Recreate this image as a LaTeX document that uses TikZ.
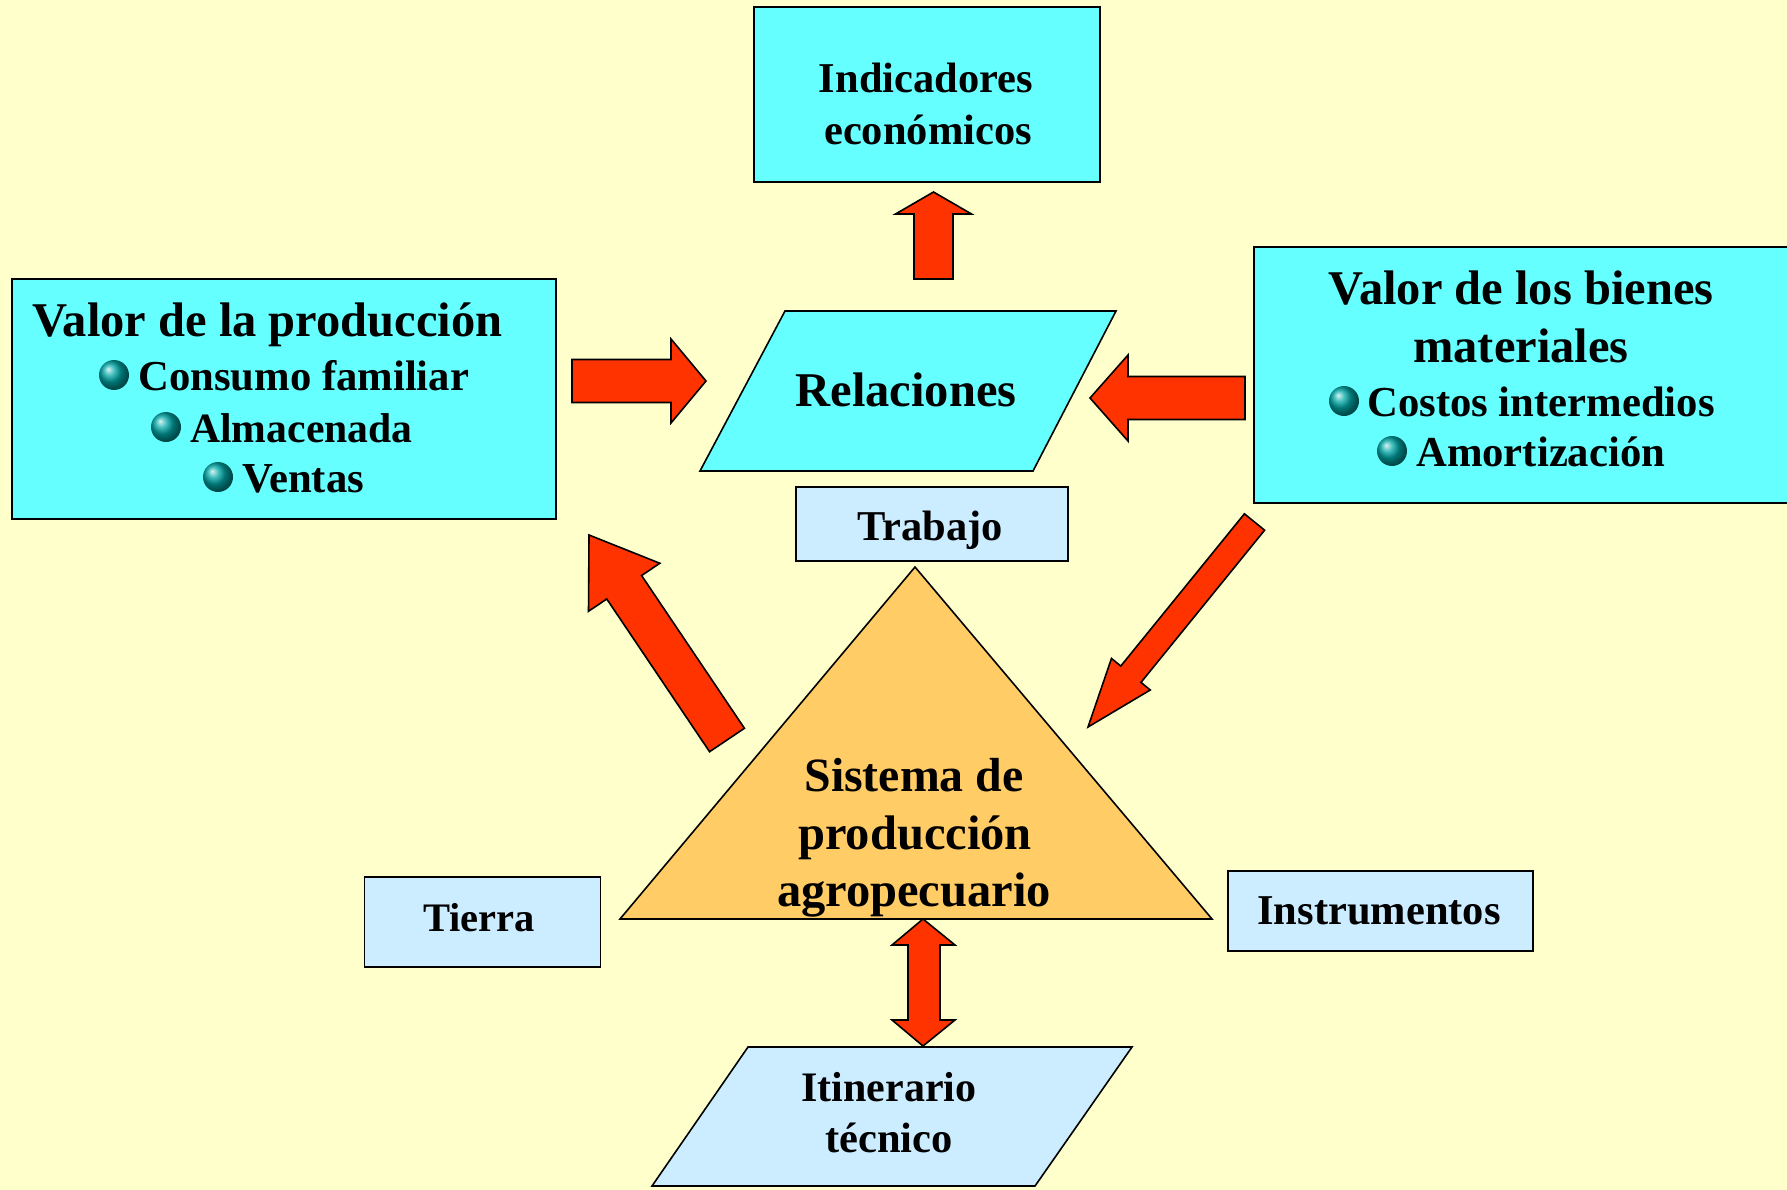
\documentclass[tikz,border=0pt]{standalone}
\usepackage{fontspec}
\setmainfont{Liberation Serif}
\usetikzlibrary{calc,shapes.geometric}
\definecolor{fondo}{HTML}{FFFFCC}
\definecolor{celeste}{HTML}{66FFFF}
\definecolor{clarito}{HTML}{CCECFF}
\definecolor{naranja}{HTML}{FFCC66}
\definecolor{rojo}{HTML}{FF3300}
\tikzset{
 caja/.style={draw=black,fill=celeste,line width=1.6pt,rectangle,inner sep=0pt,align=center,font=\fontsize{42.5}{52}\bfseries},
 clara/.style={caja,fill=clarito},
 lado/.style={draw=black,line width=1.6pt,line join=miter},
 flecha/.style={draw=black,fill=rojo,line width=1.6pt,line join=miter},
 texto/.style={anchor=base,inner sep=0pt,font=\fontsize{42.5}{48}\bfseries},
 titulo/.style={texto,font=\fontsize{48.5}{56}\bfseries},
 item/.style={texto,anchor=base west,font=\fontsize{42.7}{48}\bfseries},
 orbe/.style={circle,minimum width=30pt,inner sep=0pt,shade,ball color=teal!70!cyan}
}
% #1 tail, #2 tip, #3 half shaft, #4 half head, #5 head length
\newcommand{\flecha}[5]{
 \draw[flecha] ($(#1)!#3!90:(#2)$) -- ($($(#2)!#5!(#1)$)!#3!90:(#2)$)
  -- ($($(#2)!#5!(#1)$)!#4!90:(#2)$) -- (#2)
  -- ($($(#2)!#5!(#1)$)!#4!-90:(#2)$) -- ($($(#2)!#5!(#1)$)!#3!-90:(#2)$)
  -- ($(#1)!#3!-90:(#2)$) -- cycle;
}
\begin{document}
\begin{tikzpicture}[x=1pt,y=-1pt]
 \useasboundingbox[fill=fondo] (0,0) rectangle (1787,1190);
 % boxes
 \node[caja,minimum width=346pt,minimum height=175pt] (indicadores) at (927,94.5) {};
 \node[caja,minimum width=544pt,minimum height=240pt] (produccion) at (284,399) {};
 \node[caja,minimum width=536pt,minimum height=256pt] (bienes) at (1522,375) {};
 \node[clara,minimum width=272pt,minimum height=74pt] (trabajo) at (932,524) {};
 \node[clara,minimum width=236pt,minimum height=90pt] (tierra) at (482.5,922) {};
 \node[clara,minimum width=305pt,minimum height=80pt] (instrumentos) at (1380.5,911) {};
 % slanted shapes and triangle
 \draw[lado,fill=celeste] (700,471)--(785,311)--(1116,311)--(1033,471)--cycle;
 \draw[lado,fill=clarito] (652,1186)--(748,1047)--(1132,1047)--(1035,1186)--cycle;
 \draw[lado,fill=naranja] (915,567)--(1212,919)--(620,919)--cycle;
 % labels
 \node[texto] (indicadoresa) at (926,93) {Indicadores};
 \node[texto] (indicadoresb) at (928,145) {económicos};
 \node[titulo] (relaciones) at (906,406) {Relaciones};
 \node[texto] (trabajot) at (930,540) {Trabajo};
 \node[texto,font=\fontsize{40.5}{48}\bfseries] (tierrat) at (479,931) {Tierra};
 \node[texto] (instrumentost) at (1379,924) {Instrumentos};
 \node[titulo,font=\fontsize{47.8}{56}\bfseries] (sistema) at (914,791) {Sistema de};
 \node[titulo] (sistemab) at (915,849) {producción};
 \node[titulo] (sistemac) at (914,906) {agropecuario};
 \node[texto,font=\fontsize{42}{48}\bfseries] (itinerario) at (889,1101) {Itinerario};
 \node[texto] (tecnico) at (889,1152) {técnico};
 % left list
 \node[titulo,anchor=base west] (valorprod) at (32,336) {Valor de la producción};
 \node[orbe] (orbea) at (114,375) {};
 \node[item] (consumo) at (138,390) {Consumo familiar};
 \node[orbe] (orbeb) at (166,427) {};
 \node[item,font=\fontsize{41.7}{48}\bfseries] (almacenada) at (190,442) {Almacenada};
 \node[orbe] (orbec) at (218,477) {};
 \node[item] (ventas) at (242,492) {Ventas};
 % right list
 \node[titulo] (valorbienes) at (1521,304) {Valor de los bienes};
 \node[titulo] (materiales) at (1521,362) {materiales};
 \node[orbe] (orbed) at (1344,401) {};
 \node[item] (costos) at (1367,416) {Costos intermedios};
 \node[orbe] (orbee) at (1392,451) {};
 \node[item] (amortizacion) at (1416,466) {Amortización};
 % arrow ends
 \coordinate (arribaa) at (933.5,279);
 \coordinate (arribab) at (933.5,192);
 \coordinate (dera) at (572,381);
 \coordinate (derb) at (706,381);
 \coordinate (izqa) at (1245,398);
 \coordinate (izqb) at (1090,398);
 \coordinate (diaga) at (727,740);
 \coordinate (diagb) at (589,535);
 \coordinate (bajaa) at (1254.5,522);
 \coordinate (bajab) at (1088,727);
 \coordinate (dobleb) at (923,919);
 \coordinate (doblec) at (923,1046);
 % arrows
 \flecha{arribaa}{arribab}{19.5pt}{38pt}{22pt}
 \flecha{dera}{derb}{21.5pt}{42pt}{35pt}
 \flecha{izqa}{izqb}{21.5pt}{43pt}{38pt}
 \flecha{diaga}{diagb}{21pt}{43pt}{63pt}
 \flecha{bajaa}{bajab}{13pt}{25pt}{68pt}
 \draw[flecha] (908,945)--(892,945)--(dobleb)--(955,945)--(940,945)--(940,1020)--(955,1020)--(doblec)--(892,1020)--(908,1020)--cycle;
\end{tikzpicture}
\end{document}
